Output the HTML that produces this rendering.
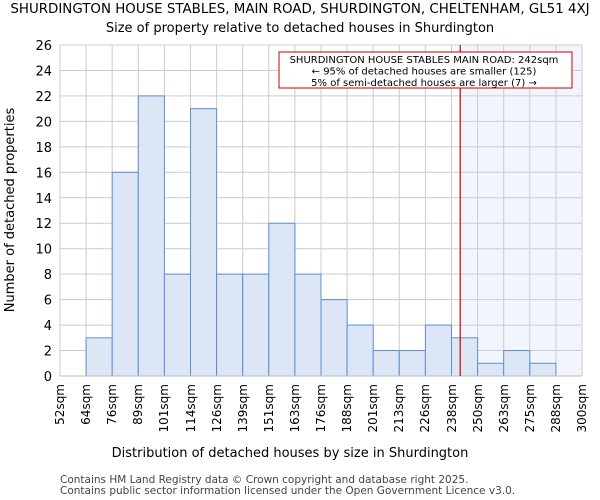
<!DOCTYPE html>
<html><head><meta charset="utf-8"><style>
body{margin:0;background:#fff;position:relative;width:600px;height:500px;overflow:hidden}
svg{font-family:"DejaVu Sans","Liberation Sans",sans-serif;position:absolute;left:0;top:0}
.xc{position:absolute;top:384px;font:12px "DejaVu Sans","Liberation Sans",sans-serif;color:#000;writing-mode:vertical-rl;transform:rotate(180deg);white-space:nowrap;line-height:14px;width:14px;text-align:left}
</style></head><body>
<svg width="600" height="500" viewBox="0 0 600 500">
<g id="g"></g>
</svg>
<div id="xl"></div>
<script>
const categories=["52sqm","64sqm","76sqm","89sqm","101sqm","114sqm","126sqm","139sqm","151sqm","163sqm","176sqm","188sqm","201sqm","213sqm","226sqm","238sqm","250sqm","263sqm","275sqm","288sqm","300sqm"];
const counts=[0,3,16,22,8,21,8,8,12,8,6,4,2,2,4,3,1,2,1,0];
const yTicks=[0,2,4,6,8,10,12,14,16,18,20,22,24,26];
const binStart=[52,64,76,89,101,114,126,139,151,163,176,188,201,213,226,238,250,263,275,288];
const propertySize=242;
const L=60,R=582,T=45,B=376,yMax=26;
const bw=(R-L)/counts.length;
const y=v=>B-(B-T)*v/yMax;
const x=i=>L+bw*i;
function sizeX(s){let i=0;while(i<binStart.length-1&&binStart[i+1]<=s)i++;const e=i+1<binStart.length?binStart[i+1]:300;return x(i)+bw*(s-binStart[i])/(e-binStart[i]);}
const g=document.getElementById('g');const NS='http://www.w3.org/2000/svg';
function mk(t,a,txt,parent){const e=document.createElementNS(NS,t);for(const k in a)e.setAttribute(k,a[k]);if(txt!=null)e.textContent=txt;(parent||g).appendChild(e);return e;}
const rx=sizeX(propertySize);
let e=mk('rect',{x:rx,y:T,width:R-rx,height:B-T,fill:'#f2f5fc'});


for(const t of yTicks){e=mk('line',{x1:L,x2:R,y1:y(t),y2:y(t),stroke:'#cccccc'});


e=mk('text',{x:L-8,y:y(t)+5,'text-anchor':'end','font-size':13,fill:'#000'},t);

}
const xl=document.getElementById('xl');
for(let i=0;i<=counts.length;i++){e=mk('line',{x1:x(i),x2:x(i),y1:T,y2:B,stroke:'#cccccc'});


e=document.createElement('div');
e.className='xc';
e.style.left=(x(i)-7)+'px';
e.textContent=categories[i];


xl.appendChild(e);}
counts.forEach((c,i)=>{if(c<=0)return;e=mk('rect',{x:x(i),y:y(c),width:bw,height:B-y(c),fill:'#dce6f4',stroke:'#5b8fd6','stroke-width':1});

});
e=mk('line',{x1:L,x2:R,y1:B,y2:B,stroke:'#bbbbbb'});


e=mk('line',{x1:rx,x2:rx,y1:T,y2:B,stroke:'#cc0000','stroke-width':1.2});


e=mk('rect',{x:279,y:52,width:293,height:36,fill:'#fff',stroke:'#cc0000','stroke-width':1});


const ann=["SHURDINGTON HOUSE STABLES MAIN ROAD: 242sqm","← 95% of detached houses are smaller (125)","5% of semi-detached houses are larger (7) →"];
ann.forEach((s,k)=>{e=mk('text',{x:424,y:63+k*11.5,'text-anchor':'middle','font-size':10,fill:'#000'},s);

});
e=mk('text',{x:300,y:13,'text-anchor':'middle','font-size':13.4},"SHURDINGTON HOUSE STABLES, MAIN ROAD, SHURDINGTON, CHELTENHAM, GL51 4XJ");


e=mk('text',{x:300,y:32,'text-anchor':'middle','font-size':13},"Size of property relative to detached houses in Shurdington");


e=mk('text',{transform:'translate(14,210) rotate(-90)','text-anchor':'middle','font-size':13},"Number of detached properties");


e=mk('text',{x:290,y:457,'text-anchor':'middle','font-size':13},"Distribution of detached houses by size in Shurdington");


e=mk('text',{x:60,y:483,'font-size':10.5,fill:'#444'},"Contains HM Land Registry data © Crown copyright and database right 2025.");


e=mk('text',{x:60,y:494,'font-size':10.5,fill:'#444'},"Contains public sector information licensed under the Open Government Licence v3.0.");


</script>
</body></html>
